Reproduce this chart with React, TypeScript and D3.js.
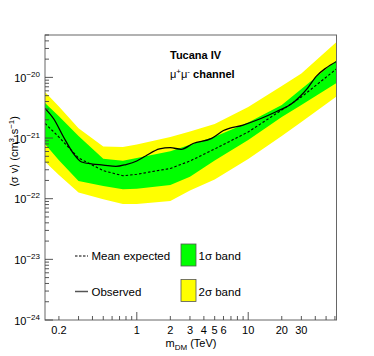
import * as d3 from 'd3';
import { useEffect, useRef } from 'react';

// mass grid of the expected bands (TeV)
const bandMass = [0.15, 0.2, 0.3, 0.5, 0.75, 1, 2, 3, 5, 10, 20, 30, 62];
const twoSigmaUpper = [5.74e-21, 3.31e-21, 1.45e-21, 7.26e-22, 7.1e-22, 7.8e-22, 1.04e-21, 1.28e-21, 1.7e-21, 3.25e-21, 7.2e-21, 1.16e-20, 3.83e-20];
const oneSigmaUpper = [3.78e-21, 2.28e-21, 1.08e-21, 4.56e-22, 4.23e-22, 4.69e-22, 6.05e-22, 7.77e-22, 1.05e-21, 1.8e-21, 3.51e-21, 6.44e-21, 1.9e-20];
const meanExpected = [1.74e-21, 1.04e-21, 4.69e-22, 2.9e-22, 2.39e-22, 2.53e-22, 3.15e-22, 4.18e-22, 6.6e-22, 1.26e-21, 2.9e-21, 4.75e-21, 1.38e-20];
const oneSigmaLower = [7.98e-22, 4.3e-22, 1.96e-22, 1.62e-22, 1.43e-22, 1.46e-22, 1.68e-22, 2.31e-22, 4.26e-22, 9.29e-22, 2.22e-21, 3.51e-21, 8.08e-21];
const twoSigmaLower = [4.07e-22, 2.46e-22, 1.26e-22, 9.77e-23, 8.18e-23, 8.18e-23, 9.17e-23, 1.37e-22, 2.07e-22, 4.51e-22, 1.08e-21, 1.84e-21, 4.84e-21];

// observed limit
const observedMass = [0.15, 0.18, 0.22, 0.27, 0.32, 0.4, 0.5, 0.65, 0.8, 1, 1.2, 1.6, 2, 2.5, 3.2, 4.7, 6, 9, 13, 18, 24, 29, 34, 41, 50, 62];
const observed = [3.09e-21, 2.06e-21, 1.04e-21, 5.56e-22, 4.03e-22, 3.73e-22, 3.59e-22, 3.4e-22, 3.66e-22, 4.18e-22, 5.06e-22, 6.6e-22, 6.93e-22, 6.52e-22, 8.13e-22, 9.9e-22, 1.33e-21, 1.64e-21, 2.1e-21, 2.74e-21, 3.57e-21, 4.81e-21, 6.61e-21, 1.05e-20, 1.43e-20, 1.83e-20];

const xTickLabels = [0.2, 1, 2, 3, 4, 5, 6, 10, 20, 30];
const yTickExponents = [-24, -23, -22, -21, -20];

const FONT = '"Liberation Sans", Arial, Helvetica, sans-serif';
const YELLOW = '#ffff00';
const GREEN = '#00ff00';

export default function App() {
  const ref = useRef<SVGSVGElement>(null);

  useEffect(() => {
    const svg = d3.select(ref.current);
    svg.selectAll('*').remove();

    const width = 374;
    const height = 356;
    const frame = { left: 45, right: 336.5, top: 35, bottom: 320 };

    svg.attr('width', width).attr('height', height).style('font-family', FONT);

    svg.append('rect').attr('width', width).attr('height', height).attr('fill', '#fff');

    const x = d3.scaleLog().domain([0.15, 62]).range([frame.left, frame.right]);
    const y = d3.scaleLog().domain([1e-24, 5e-20]).range([frame.bottom, frame.top]);

    const bands = bandMass.map((m, i) => ({
      m,
      y2u: twoSigmaUpper[i],
      y1u: oneSigmaUpper[i],
      mean: meanExpected[i],
      y1l: oneSigmaLower[i],
      y2l: twoSigmaLower[i],
    }));

    svg.append('clipPath').attr('id', 'plot-clip')
      .append('rect')
      .attr('x', frame.left)
      .attr('y', frame.top)
      .attr('width', frame.right - frame.left)
      .attr('height', frame.bottom - frame.top);

    const plot = svg.append('g').attr('clip-path', 'url(#plot-clip)');

    const area2 = d3.area<any>()
      .x((d) => x(d.m))
      .y0((d) => y(d.y2l))
      .y1((d) => y(d.y2u));
    const area1 = d3.area<any>()
      .x((d) => x(d.m))
      .y0((d) => y(d.y1l))
      .y1((d) => y(d.y1u));

    plot.append('path').attr('d', area2(bands)).attr('fill', YELLOW);
    plot.append('path').attr('d', area1(bands)).attr('fill', GREEN);

    const meanLine = d3.line<any>().x((d) => x(d.m)).y((d) => y(d.mean));
    plot.append('path')
      .attr('d', meanLine(bands))
      .attr('fill', 'none')
      .attr('stroke', '#000')
      .attr('stroke-width', 1.1)
      .attr('stroke-dasharray', '2.5 2');

    const obsLine = d3.line<number>()
      .x((_d, i) => x(observedMass[i]))
      .y((d) => y(d))
      .curve(d3.curveMonotoneX);
    plot.append('path')
      .attr('d', obsLine(observed))
      .attr('fill', 'none')
      .attr('stroke', '#000')
      .attr('stroke-width', 1.3);

    // frame
    svg.append('rect')
      .attr('x', frame.left)
      .attr('y', frame.top)
      .attr('width', frame.right - frame.left)
      .attr('height', frame.bottom - frame.top)
      .attr('fill', 'none')
      .attr('stroke', '#666')
      .attr('stroke-width', 1);

    const isDecade = (v: number) => Math.abs(Math.log10(v) - Math.round(Math.log10(v))) < 1e-6;

    // x ticks
    svg.append('g').selectAll('line')
      .data(x.ticks())
      .enter()
      .append('line')
      .attr('x1', (d) => x(d))
      .attr('x2', (d) => x(d))
      .attr('y1', frame.bottom)
      .attr('y2', (d) => frame.bottom - (isDecade(d) ? 8 : 4))
      .attr('stroke', '#444')
      .attr('stroke-width', 0.9);

    svg.append('g').selectAll('text')
      .data(xTickLabels)
      .enter()
      .append('text')
      .attr('x', (d) => x(d))
      .attr('y', 334)
      .attr('text-anchor', 'middle')
      .style('font-size', '11px')
      .text((d) => String(d));

    // y ticks
    svg.append('g').selectAll('line')
      .data(y.ticks())
      .enter()
      .append('line')
      .attr('x1', frame.left)
      .attr('x2', (d) => frame.left + (isDecade(d) ? 8 : 4))
      .attr('y1', (d) => y(d))
      .attr('y2', (d) => y(d))
      .attr('stroke', '#444')
      .attr('stroke-width', 0.9);

    const yLabels = svg.append('g').selectAll('text')
      .data(yTickExponents)
      .enter()
      .append('text')
      .attr('x', 40)
      .attr('y', (d) => y(Math.pow(10, d)) + 4.5)
      .attr('text-anchor', 'end')
      .style('font-size', '11px');
    yLabels.append('tspan').text('10');
    yLabels.append('tspan')
      .attr('dy', -5)
      .style('font-size', '8px')
      .text((d) => `\u2212${Math.abs(d)}`);

    // axis titles
    const xTitle = svg.append('text')
      .attr('x', 191)
      .attr('y', 347)
      .attr('text-anchor', 'middle')
      .style('font-size', '11px');
    xTitle.append('tspan').text('m');
    xTitle.append('tspan').attr('dy', 3).style('font-size', '8px').text('DM');
    xTitle.append('tspan').attr('dy', -3).text(' (TeV)');

    const yTitle = svg.append('text')
      .attr('transform', 'translate(18,116) rotate(-90)')
      .attr('text-anchor', 'end')
      .style('font-size', '11px');
    yTitle.append('tspan').text('\u27e8\u03c3 v\u27e9 (cm');
    yTitle.append('tspan').attr('dy', -4).style('font-size', '8px').text('3');
    yTitle.append('tspan').attr('dy', 4).text('\u00b7s');
    yTitle.append('tspan').attr('dy', -4).style('font-size', '8px').text('\u22121');
    yTitle.append('tspan').attr('dy', 4).text(')');

    // title texts
    svg.append('text')
      .attr('x', 170)
      .attr('y', 59)
      .style('font-size', '11px')
      .style('font-weight', 'bold')
      .text('Tucana IV');

    const channel = svg.append('text')
      .attr('x', 170)
      .attr('y', 78)
      .style('font-size', '11px');
    channel.append('tspan').text('\u03bc');
    channel.append('tspan').attr('dy', -4).style('font-size', '8px').text('+');
    channel.append('tspan').attr('dy', 4).text('\u03bc');
    channel.append('tspan').attr('dy', -4).style('font-size', '8px').text('-');
    channel.append('tspan').attr('dy', 4).style('font-weight', 'bold').text(' channel');

    // legend
    const legend = svg.append('g').style('font-size', '11.5px');
    legend.append('line')
      .attr('x1', 75).attr('x2', 88).attr('y1', 256).attr('y2', 256)
      .attr('stroke', '#000').attr('stroke-width', 1.1).attr('stroke-dasharray', '2.5 1.5');
    legend.append('text').attr('x', 91.5).attr('y', 260).text('Mean expected');
    legend.append('line')
      .attr('x1', 75).attr('x2', 88).attr('y1', 291.5).attr('y2', 291.5)
      .attr('stroke', '#555').attr('stroke-width', 1.5);
    legend.append('text').attr('x', 91.5).attr('y', 295.5).text('Observed');

    legend.append('rect')
      .attr('x', 181).attr('y', 244).attr('width', 15).attr('height', 22)
      .attr('fill', GREEN).attr('stroke', '#555').attr('stroke-width', 0.8);
    legend.append('text').attr('x', 198.5).attr('y', 260).text('1\u03c3 band');
    legend.append('rect')
      .attr('x', 181).attr('y', 279.5).attr('width', 15).attr('height', 22)
      .attr('fill', YELLOW).attr('stroke', '#555').attr('stroke-width', 0.8);
    legend.append('text').attr('x', 198.5).attr('y', 295.5).text('2\u03c3 band');

    return () => {
      svg.selectAll('*').remove();
    };
  }, []);

  return (
    <svg
      ref={ref}
      style={{ position: 'absolute', left: 0, top: 0, display: 'block' }}
    />
  );
}
